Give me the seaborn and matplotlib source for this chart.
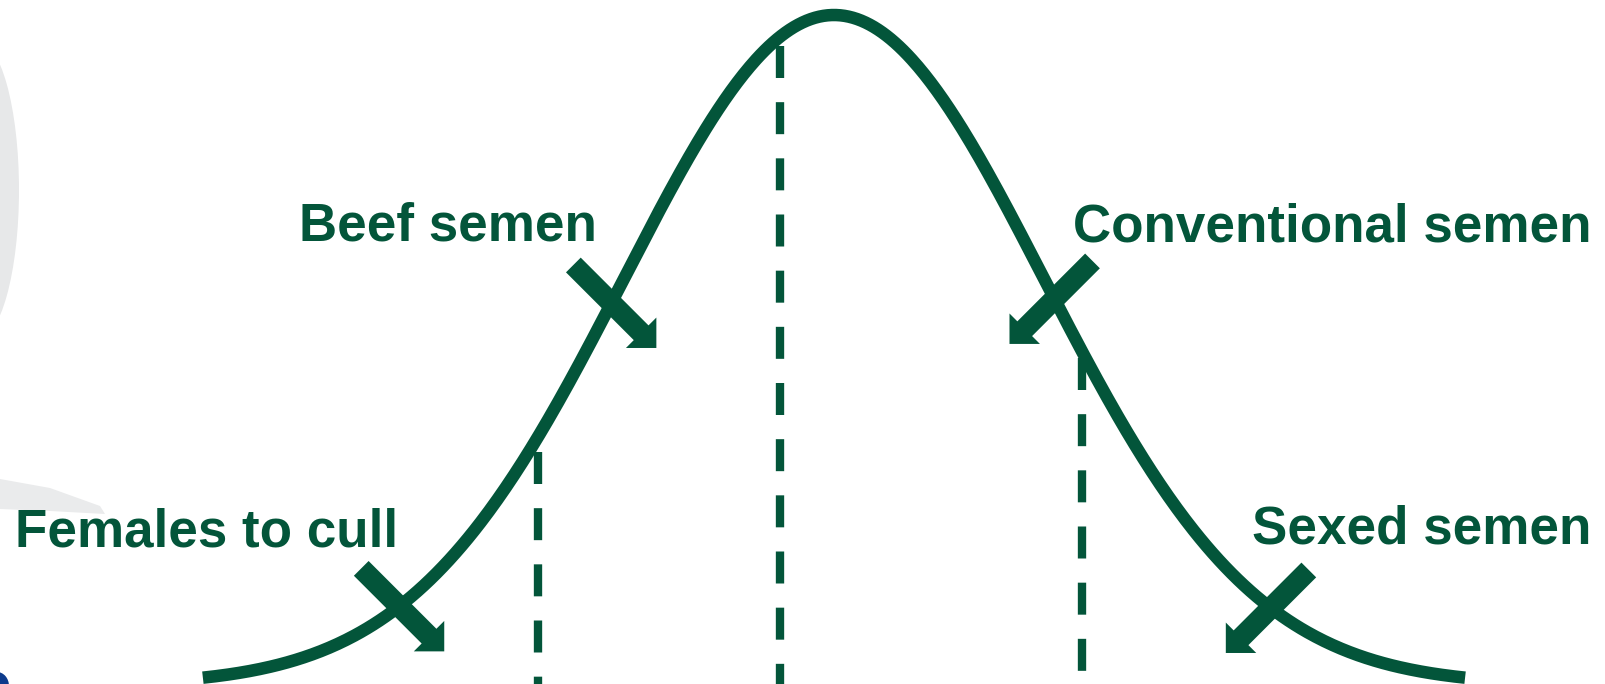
import numpy as np
import pandas as pd
import matplotlib
matplotlib.use("Agg")
import matplotlib.pyplot as plt
import seaborn as sns
from matplotlib.transforms import offset_copy, IdentityTransform
from matplotlib.patches import Ellipse, Polygon

# Colours
GREEN = '#03553a'

# Bell curve (standardised units: mean 0, sd 1)
curve_z = np.linspace(-3.005, 3.005, 601)
curve_h = np.exp(-curve_z ** 2 / 2)

# Dashed cut-off lines: position and top height
cutoff_z = [-1.41, -0.257, 1.181]
cutoff_top = [0.348, 0.954, 0.488]

# Labels with the point on the curve where each arrow crosses it
labels = ['Females to cull', 'Beef semen', 'Conventional semen', 'Sexed semen']
label_z = [-2.07, -1.06, 1.05, 2.08]
arrow_dir = [1, 1, -1, -1]  # 1 = points down-right, -1 = points down-left
label_pos = [(0.0093, 0.2003, 'left'), (0.3715, 0.6477, 'right'),
             (0.668, 0.6462, 'left'), (0.9907, 0.2061, 'right')]

sns.set_style('white')
plt.rcParams['font.family'] = ['Liberation Sans', 'DejaVu Sans']

fig = plt.figure(figsize=(16.06, 6.84), dpi=100)
ax = fig.add_axes([0, 0, 1, 1])
ax.set_xlim(-3.971, 3.676)
ylim = (0.0015, 1.0224)
ax.set_ylim(*ylim)
ax.axis('off')

# faint slide decorations at the left edge (pixel coords, y measured from top)
H = 684
ident = IdentityTransform()
fig.add_artist(Ellipse((-23, H - 190), 84, 300, transform=ident,
                       color='#e7e8e9', lw=0, zorder=0))
fig.add_artist(Polygon([(0, H - 479), (50, H - 488), (100, H - 506), (105, H - 514),
                        (50, H - 511), (0, H - 509)], closed=True, transform=ident,
                       color='#eaebec', lw=0, zorder=0))
fig.add_artist(Ellipse((-3, -2), 24, 28, transform=ident,
                       color='#0d3b8c', lw=0, zorder=0))

# dashed lines, drawn from the top down so the dash pattern starts at the top
ax.vlines(cutoff_z, ymin=cutoff_top, ymax=ylim[0], colors=GREEN,
          linewidth=6.0, linestyles=(0, (3.84, 2.9)))

# the curve
curve_df = pd.DataFrame({'z': curve_z, 'h': curve_h})
sns.lineplot(data=curve_df, x='z', y='h', ax=ax, color=GREEN,
             linewidth=9.0, solid_capstyle='butt', sort=False)
ax.set_xlabel('')
ax.set_ylabel('')

# block arrows crossing the curve
for z, d in zip(label_z, arrow_dir):
    h = np.exp(-z ** 2 / 2)
    tail = offset_copy(ax.transData, fig=fig, x=-38 * d, y=38, units='dots')
    tip = offset_copy(ax.transData, fig=fig, x=45 * d, y=-45, units='dots')
    ax.annotate('', xy=(z, h), xycoords=tip, xytext=(z, h), textcoords=tail,
                arrowprops=dict(arrowstyle='simple,head_length=1.55,head_width=3.1,tail_width=1.5',
                                mutation_scale=10, shrinkA=0, shrinkB=0,
                                color=GREEN, lw=0))

for text, (x, y, ha) in zip(labels, label_pos):
    ax.text(x, y, text, transform=ax.transAxes, ha=ha, va='baseline',
            fontsize=38.2, fontweight='bold', color=GREEN)

fig.savefig('out.png', dpi=100)
